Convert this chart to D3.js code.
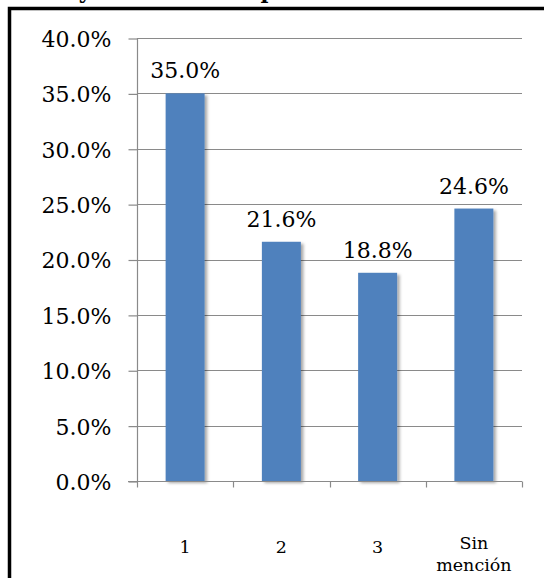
<!DOCTYPE html>
<html><head><meta charset="utf-8">
<script src="https://cdn.jsdelivr.net/npm/d3@7"></script>
<style>html,body{margin:0;padding:0;background:#fff;overflow:hidden}</style>
</head><body>
<svg id="c" width="544" height="578"></svg>
<script>
const categories = ["1", "2", "3", "Sin mención"];
const values = [0.350, 0.216, 0.188, 0.246];
const yTicks = [0, 0.05, 0.10, 0.15, 0.20, 0.25, 0.30, 0.35, 0.40];
const titleText = "Orden de mención y el nivel de importancia";

const svg = d3.select("#c");
const fontFam = "'DejaVu Serif', serif";
const plot = {left: 137, right: 522, top: 38, bottom: 481};

const defs = svg.append("defs");
const f = defs.append("filter").attr("id","sh").attr("x","-20%").attr("y","-5%").attr("width","150%").attr("height","115%");
f.append("feDropShadow").attr("dx",2.5).attr("dy",2).attr("stdDeviation",1.6).attr("flood-color","#000").attr("flood-opacity",0.35);

// frame (clipped at top/right/bottom)
svg.append("rect").attr("x",9.5).attr("y",8.5).attr("width",600).attr("height",620)
  .attr("fill","none").attr("stroke","#000").attr("stroke-width",3.5);

// clipped title
const t = svg.append("text").attr("y",-2).attr("font-family","'DejaVu Serif', serif")
  .attr("font-weight","bold").attr("font-size",20).text(titleText);
(function(){
  const node = t.node();
  const iy = titleText.indexOf("y"), ip = titleText.indexOf("p");
  const c = i => { const s = node.getStartPositionOfChar(i).x, e = node.getEndPositionOfChar(i).x; return (s+e)/2; };
  let gap = c(ip) - c(iy);
  const fs = 20 * 183 / gap;
  t.attr("font-size", fs);
  const off = 85 - c(iy);
  t.attr("x", off);
})();

const y = d3.scaleLinear().domain([0, 0.4]).range([plot.bottom, plot.top]);
const x = d3.scaleBand().domain(categories).range([plot.left, plot.right]).paddingInner(0.595).paddingOuter(0.2975);

// gridlines
svg.append("g").selectAll("line").data(yTicks.filter(d=>d>0)).join("line")
  .attr("x1",plot.left).attr("x2",plot.right)
  .attr("y1",d=>Math.round(y(d))+0.5).attr("y2",d=>Math.round(y(d))+0.5)
  .attr("stroke","#8a8a8a").attr("stroke-width",1.2);

// bars
svg.append("g").selectAll("rect").data(values).join("rect")
  .attr("x",(d,i)=>x(categories[i])).attr("width",x.bandwidth())
  .attr("y",d=>y(d)).attr("height",d=>y(0)-y(d))
  .attr("fill","#4f81bd").attr("filter","url(#sh)");

// y axis
const yAxis = d3.axisLeft(y).tickValues(yTicks).tickFormat(d3.format(".1%")).tickSize(9).tickPadding(17);
const gy = svg.append("g").attr("transform",`translate(${plot.left}.5,0.5)`).call(yAxis);
gy.select(".domain").attr("stroke","#8a8a8a").attr("stroke-width",1.2).attr("d",`M0,${plot.top-0.5}V${plot.bottom}`);
gy.selectAll(".tick line").attr("stroke","#8a8a8a").attr("stroke-width",1.2);
gy.selectAll(".tick text").attr("font-family",fontFam).attr("font-size",22).attr("fill","#000").attr("dy","0.36em");

// x axis
const gx = svg.append("g").attr("transform",`translate(0,${Math.round(y(0))+0.5})`);
gx.append("line").attr("x1",plot.left-9).attr("x2",plot.right).attr("stroke","#8a8a8a").attr("stroke-width",1.2);
const bounds = [plot.left].concat(categories.map(c=>x(c)+x.bandwidth()/2+x.step()/2));
gx.selectAll("line.tk").data(bounds).join("line").attr("class","tk")
  .attr("x1",d=>Math.round(d)+0.5).attr("x2",d=>Math.round(d)+0.5).attr("y1",0).attr("y2",6)
  .attr("stroke","#8a8a8a").attr("stroke-width",1.2);

const catG = svg.append("g").attr("font-family",fontFam).attr("font-size",17.5).attr("text-anchor","middle");
categories.forEach(c=>{
  const words = c.split(" ");
  const cx = x(c)+x.bandwidth()/2;
  const tx = catG.append("text").attr("x",cx);
  if (words.length===1) {
    tx.attr("y",553).text(c);
  } else {
    words.forEach((w,j)=>tx.append("tspan").attr("x",cx).attr("y",549+j*22).text(w));
  }
});

// data labels
svg.append("g").attr("font-family",fontFam).attr("font-size",22).attr("text-anchor","middle")
  .selectAll("text").data(values).join("text")
  .attr("x",(d,i)=>x(categories[i])+x.bandwidth()/2)
  .attr("y",d=>y(d)-15)
  .text(d=>d3.format(".1%")(d));
</script>
</body></html>
